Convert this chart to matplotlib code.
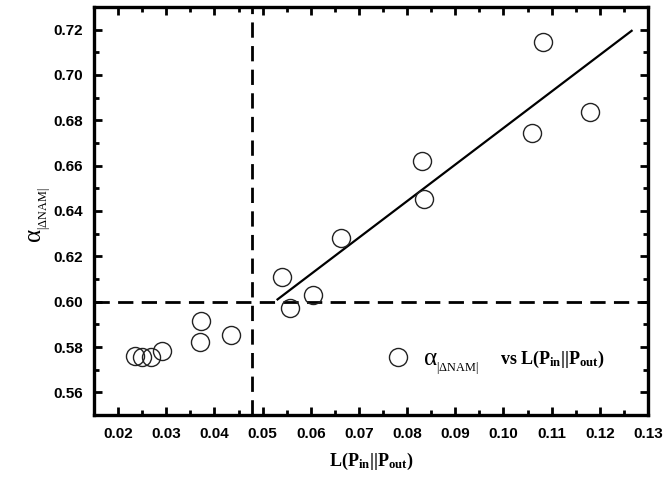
import matplotlib
matplotlib.use("Agg")
import matplotlib.pyplot as plt
from matplotlib.ticker import MultipleLocator

plt.rcParams['mathtext.fontset'] = 'custom'
plt.rcParams['mathtext.rm'] = 'Liberation Serif'
plt.rcParams['mathtext.it'] = 'Liberation Serif:italic'
plt.rcParams['mathtext.bf'] = 'Liberation Serif:bold'

# data
x_kl = [0.0235, 0.0250, 0.0269, 0.0292, 0.0372, 0.0370, 0.0435,
        0.0540, 0.0556, 0.0604, 0.0663, 0.0830, 0.0835, 0.1060, 0.1083, 0.1179]
alpha = [0.5762, 0.5755, 0.5758, 0.5784, 0.5914, 0.5821, 0.5854,
         0.6109, 0.5973, 0.6028, 0.6283, 0.6620, 0.6455, 0.6743, 0.7145, 0.6838]
fit_x = [0.0531, 0.1266]
fit_y = [0.6010, 0.7195]
v_thresh = 0.0479
h_thresh = 0.60
xticks = [0.02, 0.03, 0.04, 0.05, 0.06, 0.07, 0.08, 0.09, 0.10, 0.11, 0.12, 0.13]
yticks = [0.56, 0.58, 0.60, 0.62, 0.64, 0.66, 0.68, 0.70, 0.72]

alpha_sym = r'$\mathrm{\alpha}_{{}_{\mathrm{|\Delta NAM|}}}$'
vs_label = r'$\mathbf{vs\ L(P_{in}||P_{out})}$'

fig = plt.figure(figsize=(6.64, 4.88), dpi=100)
ax = fig.add_axes([94/664, 1-415/488, (648-94)/664, (415-7)/488])

ax.axvline(v_thresh, color='black', lw=2.0, ls=(0, (5.5, 3)), zorder=1)
ax.axhline(h_thresh, color='black', lw=2.0, ls=(0, (5.5, 3)), zorder=1)
ax.plot(fit_x, fit_y, color='black', lw=1.6, zorder=2)
pts, = ax.plot(x_kl, alpha, ls='none', marker='o', ms=13, mfc='none', mec='#222222',
               mew=1.0, zorder=3)

ax.set_xlim(0.015, 0.13)
ax.set_ylim(0.55, 0.73)
ax.set_xticks(xticks)
ax.set_yticks(yticks)
ax.set_xticklabels([f'{v:.2f}' for v in xticks])
ax.set_yticklabels([f'{v:.2f}' for v in yticks])
ax.xaxis.set_minor_locator(MultipleLocator(0.005))
ax.yaxis.set_minor_locator(MultipleLocator(0.01))
ax.tick_params(which='both', direction='in', top=True, right=True, width=2)
ax.tick_params(which='major', length=6, labelsize=11)
ax.tick_params(axis='x', which='major', pad=9)
ax.tick_params(axis='y', which='major', pad=8)
ax.tick_params(which='minor', length=3.5)
for lab in ax.get_xticklabels() + ax.get_yticklabels():
    lab.set_fontfamily('Liberation Sans')
    lab.set_fontweight('bold')
for s in ax.spines.values():
    s.set_linewidth(2.4)

ax.set_xlabel(r'$\mathbf{L(P_{in}||P_{out})}$', fontsize=13, labelpad=7)
ax.set_ylabel(alpha_sym, fontsize=18)
ax.yaxis.set_label_coords(-0.074, 0.49)

# legend: marker handle + label text
leg = ax.legend(handles=[pts], labels=[vs_label], loc='center left',
                bbox_to_anchor=(0.5165, 0.137), frameon=False, fontsize=13,
                handlelength=2.0, handletextpad=4.65, borderpad=0, borderaxespad=0)
ax.text((423-94)/554, (415-366)/408, alpha_sym, transform=ax.transAxes,
        fontsize=18, ha='left', va='baseline')

fig.savefig('out.png', dpi=100)
